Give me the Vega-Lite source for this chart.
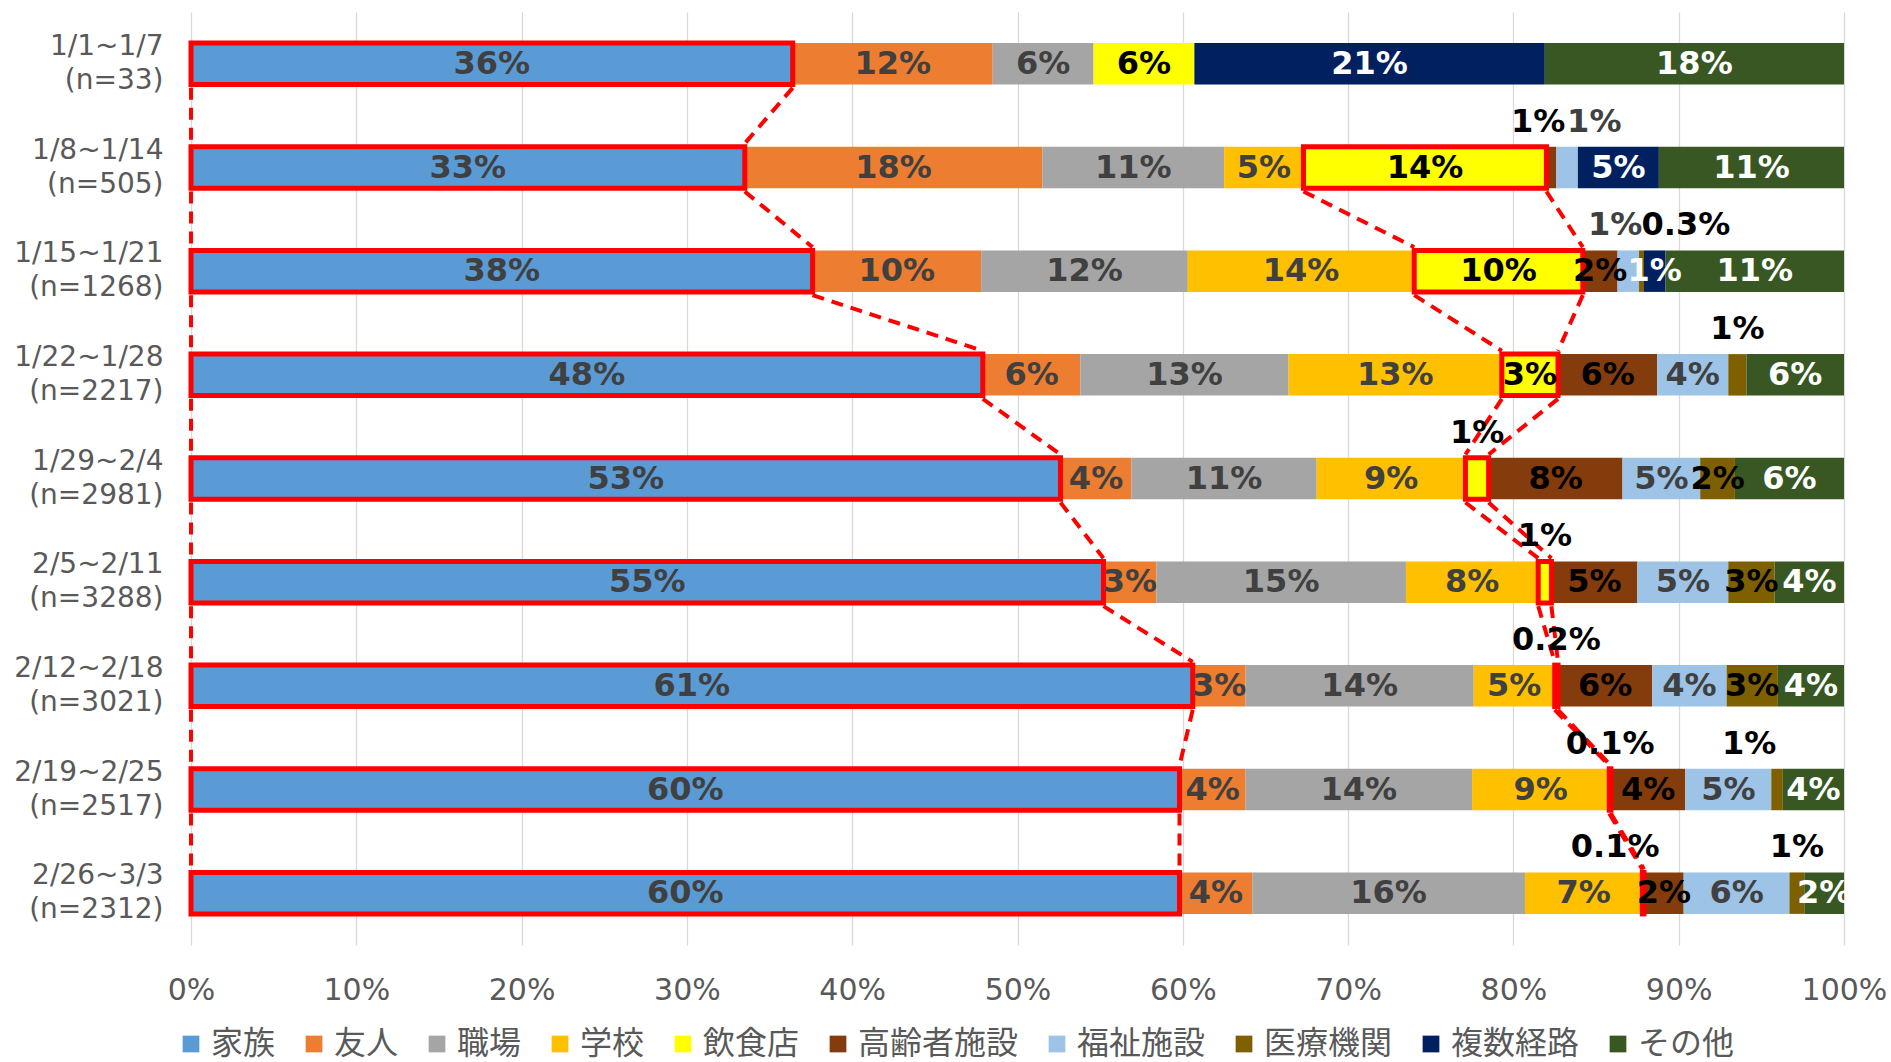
{
  "$schema": "https://vega.github.io/schema/vega-lite/v6.json",
  "width": 1653,
  "height": 933,
  "autosize": {"type": "none"},
  "padding": {"left": 191, "top": 12, "right": 47, "bottom": 117},
  "background": "white",
  "config": {
    "font": "DejaVu Sans",
    "view": {"stroke": null},
    "legend": {
      "orient": "none",
      "legendX": -16,
      "legendY": 1016,
      "direction": "horizontal",
      "symbolType": "square",
      "symbolSize": 280,
      "symbolStrokeWidth": 0,
      "labelFont": "Noto Sans CJK JP",
      "labelFontSize": 32,
      "labelColor": "#595959",
      "labelOffset": 4,
      "labelLimit": 300,
      "columnPadding": 22,
      "title": null
    }
  },
  "data": {
    "values": [
      {"row": "1/1~1/7 (n=33)", "cat": "家族", "value": 36.4, "label": "36%"},
      {"row": "1/1~1/7 (n=33)", "cat": "友人", "value": 12.1, "label": "12%"},
      {"row": "1/1~1/7 (n=33)", "cat": "職場", "value": 6.1, "label": "6%"},
      {"row": "1/1~1/7 (n=33)", "cat": "飲食店", "value": 6.1, "label": "6%"},
      {"row": "1/1~1/7 (n=33)", "cat": "複数経路", "value": 21.2, "label": "21%"},
      {"row": "1/1~1/7 (n=33)", "cat": "その他", "value": 18.1, "label": "18%"},

      {"row": "1/8~1/14 (n=505)", "cat": "家族", "value": 33.5, "label": "33%"},
      {"row": "1/8~1/14 (n=505)", "cat": "友人", "value": 18.0, "label": "18%"},
      {"row": "1/8~1/14 (n=505)", "cat": "職場", "value": 11.0, "label": "11%"},
      {"row": "1/8~1/14 (n=505)", "cat": "学校", "value": 4.8, "label": "5%"},
      {"row": "1/8~1/14 (n=505)", "cat": "飲食店", "value": 14.7, "label": "14%"},
      {"row": "1/8~1/14 (n=505)", "cat": "高齢者施設", "value": 0.6, "label": "1%"},
      {"row": "1/8~1/14 (n=505)", "cat": "福祉施設", "value": 1.3, "label": "1%"},
      {"row": "1/8~1/14 (n=505)", "cat": "複数経路", "value": 4.9, "label": "5%"},
      {"row": "1/8~1/14 (n=505)", "cat": "その他", "value": 11.2, "label": "11%"},

      {"row": "1/15~1/21 (n=1268)", "cat": "家族", "value": 37.6, "label": "38%"},
      {"row": "1/15~1/21 (n=1268)", "cat": "友人", "value": 10.2, "label": "10%"},
      {"row": "1/15~1/21 (n=1268)", "cat": "職場", "value": 12.5, "label": "12%"},
      {"row": "1/15~1/21 (n=1268)", "cat": "学校", "value": 13.7, "label": "14%"},
      {"row": "1/15~1/21 (n=1268)", "cat": "飲食店", "value": 10.2, "label": "10%"},
      {"row": "1/15~1/21 (n=1268)", "cat": "高齢者施設", "value": 2.1, "label": "2%"},
      {"row": "1/15~1/21 (n=1268)", "cat": "福祉施設", "value": 1.3, "label": "1%"},
      {"row": "1/15~1/21 (n=1268)", "cat": "医療機関", "value": 0.3, "label": "0.3%"},
      {"row": "1/15~1/21 (n=1268)", "cat": "複数経路", "value": 1.3, "label": "1%"},
      {"row": "1/15~1/21 (n=1268)", "cat": "その他", "value": 10.8, "label": "11%"},

      {"row": "1/22~1/28 (n=2217)", "cat": "家族", "value": 47.9, "label": "48%"},
      {"row": "1/22~1/28 (n=2217)", "cat": "友人", "value": 5.9, "label": "6%"},
      {"row": "1/22~1/28 (n=2217)", "cat": "職場", "value": 12.6, "label": "13%"},
      {"row": "1/22~1/28 (n=2217)", "cat": "学校", "value": 12.9, "label": "13%"},
      {"row": "1/22~1/28 (n=2217)", "cat": "飲食店", "value": 3.4, "label": "3%"},
      {"row": "1/22~1/28 (n=2217)", "cat": "高齢者施設", "value": 6.0, "label": "6%"},
      {"row": "1/22~1/28 (n=2217)", "cat": "福祉施設", "value": 4.3, "label": "4%"},
      {"row": "1/22~1/28 (n=2217)", "cat": "医療機関", "value": 1.1, "label": "1%"},
      {"row": "1/22~1/28 (n=2217)", "cat": "その他", "value": 5.9, "label": "6%"},

      {"row": "1/29~2/4 (n=2981)", "cat": "家族", "value": 52.6, "label": "53%"},
      {"row": "1/29~2/4 (n=2981)", "cat": "友人", "value": 4.3, "label": "4%"},
      {"row": "1/29~2/4 (n=2981)", "cat": "職場", "value": 11.2, "label": "11%"},
      {"row": "1/29~2/4 (n=2981)", "cat": "学校", "value": 9.0, "label": "9%"},
      {"row": "1/29~2/4 (n=2981)", "cat": "飲食店", "value": 1.4, "label": "1%"},
      {"row": "1/29~2/4 (n=2981)", "cat": "高齢者施設", "value": 8.1, "label": "8%"},
      {"row": "1/29~2/4 (n=2981)", "cat": "福祉施設", "value": 4.7, "label": "5%"},
      {"row": "1/29~2/4 (n=2981)", "cat": "医療機関", "value": 2.1, "label": "2%"},
      {"row": "1/29~2/4 (n=2981)", "cat": "その他", "value": 6.6, "label": "6%"},

      {"row": "2/5~2/11 (n=3288)", "cat": "家族", "value": 55.2, "label": "55%"},
      {"row": "2/5~2/11 (n=3288)", "cat": "友人", "value": 3.2, "label": "3%"},
      {"row": "2/5~2/11 (n=3288)", "cat": "職場", "value": 15.1, "label": "15%"},
      {"row": "2/5~2/11 (n=3288)", "cat": "学校", "value": 8.0, "label": "8%"},
      {"row": "2/5~2/11 (n=3288)", "cat": "飲食店", "value": 0.8, "label": "1%"},
      {"row": "2/5~2/11 (n=3288)", "cat": "高齢者施設", "value": 5.2, "label": "5%"},
      {"row": "2/5~2/11 (n=3288)", "cat": "福祉施設", "value": 5.5, "label": "5%"},
      {"row": "2/5~2/11 (n=3288)", "cat": "医療機関", "value": 2.8, "label": "3%"},
      {"row": "2/5~2/11 (n=3288)", "cat": "その他", "value": 4.2, "label": "4%"},

      {"row": "2/12~2/18 (n=3021)", "cat": "家族", "value": 60.6, "label": "61%"},
      {"row": "2/12~2/18 (n=3021)", "cat": "友人", "value": 3.2, "label": "3%"},
      {"row": "2/12~2/18 (n=3021)", "cat": "職場", "value": 13.8, "label": "14%"},
      {"row": "2/12~2/18 (n=3021)", "cat": "学校", "value": 4.9, "label": "5%"},
      {"row": "2/12~2/18 (n=3021)", "cat": "飲食店", "value": 0.2, "label": "0.2%"},
      {"row": "2/12~2/18 (n=3021)", "cat": "高齢者施設", "value": 5.7, "label": "6%"},
      {"row": "2/12~2/18 (n=3021)", "cat": "福祉施設", "value": 4.5, "label": "4%"},
      {"row": "2/12~2/18 (n=3021)", "cat": "医療機関", "value": 3.1, "label": "3%"},
      {"row": "2/12~2/18 (n=3021)", "cat": "その他", "value": 4.0, "label": "4%"},

      {"row": "2/19~2/25 (n=2517)", "cat": "家族", "value": 59.8, "label": "60%"},
      {"row": "2/19~2/25 (n=2517)", "cat": "友人", "value": 4.0, "label": "4%"},
      {"row": "2/19~2/25 (n=2517)", "cat": "職場", "value": 13.7, "label": "14%"},
      {"row": "2/19~2/25 (n=2517)", "cat": "学校", "value": 8.3, "label": "9%"},
      {"row": "2/19~2/25 (n=2517)", "cat": "飲食店", "value": 0.1, "label": "0.1%"},
      {"row": "2/19~2/25 (n=2517)", "cat": "高齢者施設", "value": 4.5, "label": "4%"},
      {"row": "2/19~2/25 (n=2517)", "cat": "福祉施設", "value": 5.2, "label": "5%"},
      {"row": "2/19~2/25 (n=2517)", "cat": "医療機関", "value": 0.7, "label": "1%"},
      {"row": "2/19~2/25 (n=2517)", "cat": "その他", "value": 3.7, "label": "4%"},

      {"row": "2/26~3/3 (n=2312)", "cat": "家族", "value": 59.8, "label": "60%"},
      {"row": "2/26~3/3 (n=2312)", "cat": "友人", "value": 4.4, "label": "4%"},
      {"row": "2/26~3/3 (n=2312)", "cat": "職場", "value": 16.5, "label": "16%"},
      {"row": "2/26~3/3 (n=2312)", "cat": "学校", "value": 7.1, "label": "7%"},
      {"row": "2/26~3/3 (n=2312)", "cat": "飲食店", "value": 0.1, "label": "0.1%"},
      {"row": "2/26~3/3 (n=2312)", "cat": "高齢者施設", "value": 2.4, "label": "2%"},
      {"row": "2/26~3/3 (n=2312)", "cat": "福祉施設", "value": 6.4, "label": "6%"},
      {"row": "2/26~3/3 (n=2312)", "cat": "医療機関", "value": 0.9, "label": "1%"},
      {"row": "2/26~3/3 (n=2312)", "cat": "その他", "value": 2.4, "label": "2%"}
    ]
  },
  "transform": [
    {"window": [{"op": "row_number", "as": "gi"}]}
  ],
  "layer": [
    {
      "mark": {"type": "bar"},
      "encoding": {
        "x": {
          "field": "value", "type": "quantitative", "stack": "zero", "title": null,
          "scale": {"domain": [0, 100], "nice": false},
          "axis": {
            "values": [0, 10, 20, 30, 40, 50, 60, 70, 80, 90, 100],
            "labelExpr": "datum.value + '%'",
            "domain": false, "ticks": false,
            "grid": true, "gridColor": "#D9D9D9", "gridWidth": 1.3,
            "labelFont": "DejaVu Sans", "labelFontSize": 30, "labelColor": "#595959",
            "labelPadding": 30, "labelFlush": false
          }
        },
        "y": {
          "field": "row", "type": "nominal", "sort": null, "title": null,
          "scale": {"paddingInner": 0.6, "paddingOuter": 0.3},
          "axis": {
            "labelExpr": "split(datum.label, ' ')",
            "domain": false, "ticks": false, "grid": false,
            "labelFont": "DejaVu Sans", "labelFontSize": 28, "labelColor": "#595959",
            "labelLineHeight": 34, "labelOffset": -17, "labelPadding": 28, "labelLimit": 300
          }
        },
        "color": {
          "field": "cat", "type": "nominal",
          "scale": {
            "domain": ["家族", "友人", "職場", "学校", "飲食店", "高齢者施設", "福祉施設", "医療機関", "複数経路", "その他"],
            "range": ["#5B9BD5", "#ED7D31", "#A5A5A5", "#FFC000", "#FFFF00", "#843C0C", "#9DC3E6", "#7F6000", "#002060", "#385723"]
          },
          "legend": {}
        },
        "order": {"field": "gi", "type": "quantitative"}
      }
    },
    {
      "transform": [
        {"stack": "value", "groupby": ["row"], "sort": [{"field": "gi", "order": "ascending"}], "as": ["x0", "x1"]},
        {"filter": "datum.cat === '家族' || (datum.cat === '飲食店' && datum.row !== '1/1~1/7 (n=33)')"}
      ],
      "mark": {"type": "bar", "fill": "transparent", "stroke": "#FF0000", "strokeWidth": 5},
      "encoding": {
        "x": {"field": "x0", "type": "quantitative", "title": null},
        "x2": {"field": "x1"},
        "y": {"field": "row", "type": "nominal", "sort": null, "title": null}
      }
    },
    {
      "transform": [
        {"stack": "value", "groupby": ["row"], "sort": [{"field": "gi", "order": "ascending"}], "as": ["x0", "x1"]},
        {"filter": "datum.cat === '家族' || (datum.cat === '飲食店' && datum.row !== '1/1~1/7 (n=33)')"},
        {"window": [{"op": "lead", "field": "x0", "as": "nx0"}, {"op": "lead", "field": "x1", "as": "nx1"}, {"op": "lead", "field": "row", "as": "nrow"}], "groupby": ["cat"], "sort": [{"field": "gi", "order": "ascending"}]},
        {"filter": "datum.nrow != null"}
      ],
      "layer": [
        {
          "mark": {"type": "rule", "color": "#FF0000", "strokeWidth": 4, "strokeDash": [12, 8], "yOffset": 24, "y2Offset": -24},
          "encoding": {
            "x": {"field": "x0", "type": "quantitative", "title": null},
            "x2": {"field": "nx0"},
            "y": {"field": "row", "type": "nominal", "sort": null, "title": null},
            "y2": {"field": "nrow"}
          }
        },
        {
          "mark": {"type": "rule", "color": "#FF0000", "strokeWidth": 4, "strokeDash": [12, 8], "yOffset": 24, "y2Offset": -24},
          "encoding": {
            "x": {"field": "x1", "type": "quantitative", "title": null},
            "x2": {"field": "nx1"},
            "y": {"field": "row", "type": "nominal", "sort": null, "title": null},
            "y2": {"field": "nrow"}
          }
        }
      ]
    },
    {
      "mark": {"type": "text", "font": "DejaVu Sans", "fontWeight": "bold", "fontSize": 32, "baseline": "middle", "align": "center"},
      "encoding": {
        "x": {"field": "value", "type": "quantitative", "stack": "zero", "bandPosition": 0.5, "title": null},
        "y": {"field": "row", "type": "nominal", "sort": null, "title": null},
        "detail": {"field": "cat", "type": "nominal"},
        "order": {"field": "gi", "type": "quantitative"},
        "text": {"condition": {"test": "datum.value < 1.5 && datum.cat !== '複数経路'", "value": ""}, "field": "label", "type": "nominal"},
        "color": {
          "condition": [
            {"test": "datum.cat === '複数経路' || datum.cat === 'その他'", "value": "#FFFFFF"},
            {"test": "datum.cat === '飲食店' || datum.cat === '高齢者施設' || datum.cat === '医療機関'", "value": "#000000"}
          ],
          "value": "#404040"
        }
      }
    },
    {
      "mark": {"type": "text", "font": "DejaVu Sans", "fontWeight": "bold", "fontSize": 32, "baseline": "middle", "align": "center", "dy": -46},
      "encoding": {
        "x": {"field": "value", "type": "quantitative", "stack": "zero", "bandPosition": 0.5, "title": null},
        "y": {"field": "row", "type": "nominal", "sort": null, "title": null},
        "detail": {"field": "cat", "type": "nominal"},
        "order": {"field": "gi", "type": "quantitative"},
        "text": {"condition": {"test": "datum.value < 1.5 && datum.cat !== '複数経路' && !((datum.row === '1/8~1/14 (n=505)' && (datum.cat === '高齢者施設' || datum.cat === '福祉施設')) || (datum.row === '1/15~1/21 (n=1268)' && (datum.cat === '福祉施設' || datum.cat === '医療機関')) || (datum.row === '2/19~2/25 (n=2517)' && datum.cat === '医療機関') || (datum.row === '2/26~3/3 (n=2312)' && datum.cat === '飲食店'))", "field": "label"}, "value": ""},
        "color": {
          "condition": [
            {"test": "datum.cat === '福祉施設'", "value": "#404040"}
          ],
          "value": "#000000"
        }
      }
    },
    {
      "mark": {"type": "text", "font": "DejaVu Sans", "fontWeight": "bold", "fontSize": 32, "baseline": "middle", "align": "center", "dy": -46, "dx": -28},
      "encoding": {
        "x": {"field": "value", "type": "quantitative", "stack": "zero", "bandPosition": 0.5, "title": null},
        "y": {"field": "row", "type": "nominal", "sort": null, "title": null},
        "detail": {"field": "cat", "type": "nominal"},
        "order": {"field": "gi", "type": "quantitative"},
        "text": {"condition": {"test": "(datum.row === '2/19~2/25 (n=2517)' && datum.cat === '医療機関') || (datum.row === '2/26~3/3 (n=2312)' && datum.cat === '飲食店')", "field": "label"}, "value": ""},
        "color": {"value": "#000000"}
      }
    },
    {
      "mark": {"type": "text", "font": "DejaVu Sans", "fontWeight": "bold", "fontSize": 32, "baseline": "middle", "align": "right", "dy": -46, "dx": 14},
      "encoding": {
        "x": {"field": "value", "type": "quantitative", "stack": "zero", "bandPosition": 0.5, "title": null},
        "y": {"field": "row", "type": "nominal", "sort": null, "title": null},
        "detail": {"field": "cat", "type": "nominal"},
        "order": {"field": "gi", "type": "quantitative"},
        "text": {"condition": {"test": "(datum.row === '1/8~1/14 (n=505)' && datum.cat === '高齢者施設') || (datum.row === '1/15~1/21 (n=1268)' && datum.cat === '福祉施設')", "field": "label"}, "value": ""},
        "color": {
          "condition": [
            {"test": "datum.cat === '福祉施設'", "value": "#404040"}
          ],
          "value": "#000000"
        }
      }
    },
    {
      "mark": {"type": "text", "font": "DejaVu Sans", "fontWeight": "bold", "fontSize": 32, "baseline": "middle", "align": "left", "dy": -46, "dx": 0},
      "encoding": {
        "x": {"field": "value", "type": "quantitative", "stack": "zero", "bandPosition": 0.5, "title": null},
        "y": {"field": "row", "type": "nominal", "sort": null, "title": null},
        "detail": {"field": "cat", "type": "nominal"},
        "order": {"field": "gi", "type": "quantitative"},
        "text": {"condition": {"test": "(datum.row === '1/8~1/14 (n=505)' && datum.cat === '福祉施設') || (datum.row === '1/15~1/21 (n=1268)' && datum.cat === '医療機関')", "field": "label"}, "value": ""},
        "color": {
          "condition": [
            {"test": "datum.cat === '福祉施設'", "value": "#404040"}
          ],
          "value": "#000000"
        }
      }
    }
  ]
}
